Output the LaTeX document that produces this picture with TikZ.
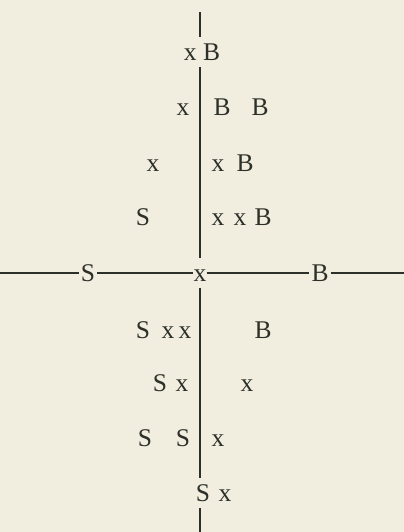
\documentclass[tikz,border=0pt]{standalone}
\usepackage{fontspec}
\setmainfont{Liberation Serif}
\definecolor{paper}{RGB}{241,237,223}
\definecolor{ink}{RGB}{44,48,40}
\begin{document}
\begin{tikzpicture}[x=0.02cm, y=-0.02cm, font=\fontsize{14.5}{17}\selectfont,
  lbl/.style={inner sep=0pt, text height=9.8pt, text depth=0pt, text=ink},
  axl/.style={lbl, inner xsep=1pt, inner ysep=3.6pt},
  axis/.style={draw=ink, line width=1pt}]
% paper
\fill[paper] (0,0) rectangle (404,532);
\useasboundingbox (0,0) rectangle (404,532);
% ends of the two axes
\coordinate (top) at (200,12);
\coordinate (bot) at (200,532);
\coordinate (left) at (0,273);
\coordinate (right) at (404,273);
% letters sitting on the axes
\node[axl,inner xsep=0.2pt] (o) at (200,273) {x};
\node[axl] (hS) at (88,273) {S};
\node[axl] (hB) at (320,273) {B};
\node[axl] (r1) at (202,52) {x B};
\node[axl] (r8) at (203,493) {S};
\draw[axis] (left) -- (hS) -- (o) -- (hB) -- (right);
\draw[axis] (top) -- (top |- r1.north) (top |- r1.south) -- (o)
  -- (top |- r8.north) (top |- r8.south) -- (bot);
% upper half
\node[lbl] (x2) at (183,107) {x};
\node[lbl] (b2a) at (222,107) {B};
\node[lbl] (b2b) at (260,107) {B};
\node[lbl] (x3a) at (153,163) {x};
\node[lbl] (x3b) at (218,163) {x};
\node[lbl] (b3) at (245,163) {B};
\node[lbl] (s4) at (143,217) {S};
\node[lbl] (x4a) at (218,217) {x};
\node[lbl] (x4b) at (240,217) {x};
\node[lbl] (b4) at (263,217) {B};
% lower half
\node[lbl] (s5) at (143,330) {S};
\node[lbl] (x5a) at (168,330) {x};
\node[lbl] (x5b) at (185,330) {x};
\node[lbl] (b5) at (263,330) {B};
\node[lbl] (s6) at (160,383) {S};
\node[lbl] (x6a) at (182,383) {x};
\node[lbl] (x6b) at (247,383) {x};
\node[lbl] (s7a) at (145,438) {S};
\node[lbl] (s7b) at (183,438) {S};
\node[lbl] (x7) at (218,438) {x};
\node[lbl] (x8) at (225,493) {x};
\end{tikzpicture}
\end{document}
